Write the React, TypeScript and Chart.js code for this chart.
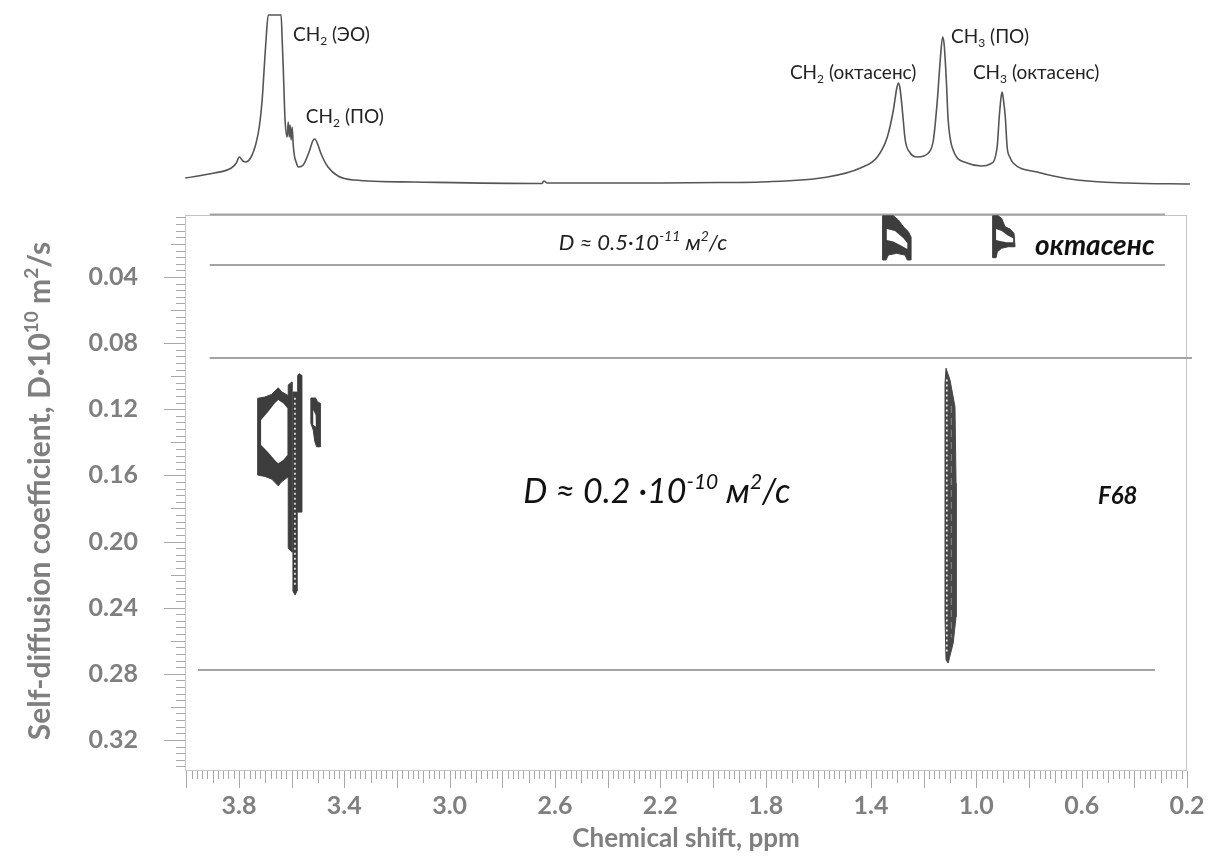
import React, { useEffect, useRef } from "react";
import { Chart, registerables } from "chart.js";

Chart.register(...registerables);

const FONT = "Lato, 'Open Sans', 'DejaVu Sans', sans-serif";
const AXIS_GREY = "#7f7f7f";
const INK = "#3d3d3d";
const RULE = "#a3a3a3";

// ---------- 1D 1H spectrum: [ppm, relative intensity] (170 = clipped top) ----------
const spectrum: [number, number][] = [
  [4.004, 7], [3.894, 12], [3.829, 17], [3.81, 22], [3.799, 28], [3.785, 24], [3.775, 23],
  [3.754, 28], [3.735, 42], [3.723, 58], [3.712, 85], [3.704, 118], [3.696, 150], [3.689, 170],
  [3.64, 170], [3.636, 145], [3.632, 118], [3.625, 65], [3.617, 48], [3.613, 63], [3.609, 48],
  [3.606, 60], [3.602, 45], [3.598, 58], [3.594, 40], [3.59, 30], [3.582, 22], [3.575, 18],
  [3.556, 20], [3.534, 33], [3.52, 44], [3.512, 46], [3.5, 40], [3.488, 31], [3.462, 18],
  [3.424, 9], [3.363, 5], [3.135, 3], [2.665, 1.5], [2.65, 1.5], [2.642, 4], [2.63, 2],
  [2.438, 2], [2.2, 2], [1.95, 2.5], [1.82, 3], [1.565, 8], [1.44, 17], [1.376, 28],
  [1.338, 48], [1.315, 75], [1.302, 97], [1.296, 102], [1.29, 97], [1.281, 75], [1.27, 45],
  [1.251, 32], [1.224, 28], [1.182, 32], [1.163, 45], [1.148, 85], [1.137, 125], [1.128, 148],
  [1.122, 140], [1.114, 105], [1.107, 65], [1.088, 35], [1.035, 22], [0.98, 19], [0.947, 21],
  [0.921, 38], [0.913, 68], [0.906, 88], [0.902, 93], [0.897, 85], [0.89, 68], [0.883, 38],
  [0.873, 28], [0.86, 22], [0.769, 13], [0.617, 5], [0.428, 2], [0.189, 1],
];

// ---------- axis ticks ----------
const shiftTicks = [3.8, 3.4, 3.0, 2.6, 2.2, 1.8, 1.4, 1.0, 0.6, 0.2];
const diffTicks = [0.04, 0.08, 0.12, 0.16, 0.2, 0.24, 0.28, 0.32];
const shiftMinorStep = 0.02;
const diffMinorStep = 0.004;

// ---------- DOSY contours: [ppm, D·10^10 m²/s] ----------
const octCH2Outer = [
  [1.356, 0.003], [1.315, 0.003], [1.296, 0.0055], [1.277, 0.0096], [1.258, 0.0126],
  [1.249, 0.0156], [1.249, 0.0297], [1.262, 0.0297], [1.271, 0.0267], [1.303, 0.0257],
  [1.334, 0.0267], [1.343, 0.0297], [1.356, 0.0297],
];
const octCH2Hole = [
  [1.34, 0.011], [1.309, 0.0122], [1.277, 0.0166], [1.262, 0.0196], [1.262, 0.0231],
  [1.284, 0.0211], [1.315, 0.0186], [1.34, 0.0176],
];
const octCH3Outer = [
  [0.938, 0.003], [0.917, 0.003], [0.904, 0.0045], [0.891, 0.0096], [0.872, 0.011],
  [0.857, 0.0136], [0.853, 0.0217], [0.879, 0.0217], [0.904, 0.0226], [0.92, 0.0247],
  [0.925, 0.0283], [0.938, 0.0283],
];
const octCH3Hole = [
  [0.925, 0.011], [0.904, 0.0122], [0.879, 0.015], [0.86, 0.0166], [0.86, 0.019],
  [0.885, 0.019], [0.91, 0.0182], [0.925, 0.0176],
];
const eoRingOuter = [
  [3.729, 0.1134], [3.702, 0.1126], [3.676, 0.111], [3.651, 0.107], [3.638, 0.1094],
  [3.613, 0.1118], [3.613, 0.1608], [3.638, 0.1638], [3.651, 0.1663], [3.676, 0.1622],
  [3.702, 0.1606], [3.729, 0.1598],
];
const eoRingHole = [
  [3.716, 0.1265], [3.689, 0.1215], [3.664, 0.1164], [3.651, 0.1144], [3.632, 0.1164],
  [3.616, 0.1194], [3.616, 0.1477], [3.632, 0.1507], [3.651, 0.1527], [3.664, 0.1507],
  [3.689, 0.146], [3.716, 0.1416],
];
const stripeA = [[3.613, 0.1053], [3.599, 0.1035], [3.599, 0.2064], [3.613, 0.2039]];
const stripeB = [[3.595, 0.1096], [3.58, 0.1096], [3.58, 0.23], [3.587, 0.2324], [3.595, 0.23]];
const stripeBDots = [[3.5875, 0.113], [3.5875, 0.228]];
const stripeC = [[3.577, 0.0995], [3.57, 0.0985], [3.562, 0.0995], [3.562, 0.1822], [3.577, 0.1822]];
const poSmallOuter = [
  [3.527, 0.1132], [3.509, 0.1132], [3.502, 0.1154], [3.492, 0.1164], [3.492, 0.1427],
  [3.505, 0.1427], [3.512, 0.1396], [3.518, 0.1326], [3.527, 0.1285],
];
const poSmallHole = [[3.518, 0.1205], [3.509, 0.1235], [3.508, 0.1306], [3.516, 0.1295]];
const f68Outer = [
  [1.115, 0.0952], [1.1, 0.1023], [1.081, 0.1185], [1.077, 0.1648], [1.077, 0.2455],
  [1.088, 0.2616], [1.107, 0.2735], [1.115, 0.2717], [1.119, 0.2455], [1.119, 0.1043],
];
const f68DotsA = [[1.112, 0.102], [1.112, 0.268]];
const f68DotsB = [[1.095, 0.118], [1.095, 0.258]];

// ---------- separating rules ----------
const ruleTop = [[3.911, 0.0022], [0.284, 0.0022]];
const ruleOct = [[3.911, 0.0327], [0.284, 0.0327]];
const ruleMid = [[3.911, 0.089], [0.181, 0.089]];
const ruleLow = [[3.956, 0.2777], [0.322, 0.2777]];

type Seg = { t: string; sup?: boolean; sub?: boolean };

function drawRich(
  ctx: CanvasRenderingContext2D, segs: Seg[], x: number, y: number, size: number,
  style: string, color: string, align: "left" | "center"
) {
  const fontFor = (s: Seg) =>
    `${style} ${s.sup || s.sub ? Math.round(size * 0.62) : size}px ${FONT}`;
  let total = 0;
  for (const s of segs) { ctx.font = fontFor(s); total += ctx.measureText(s.t).width; }
  let cx = align === "center" ? x - total / 2 : x;
  ctx.fillStyle = color;
  ctx.textAlign = "left";
  ctx.textBaseline = "alphabetic";
  for (const s of segs) {
    ctx.font = fontFor(s);
    const dy = s.sup ? -size * 0.4 : s.sub ? size * 0.22 : 0;
    ctx.fillText(s.t, cx, y + dy);
    cx += ctx.measureText(s.t).width;
  }
}

// annotations inside the DOSY panel: [ppm, D]
const labelSlowD = [2.266, 0.0237];
const labelOct = [0.777, 0.0267];
const labelFastD = [2.213, 0.1767];
const labelF68 = [0.538, 0.1773];

// peak labels on the spectrum: [ppm, intensity]
const peakLabels: { at: [number, number]; segs: Seg[] }[] = [
  { at: [3.595, 144], segs: [{ t: "CH" }, { t: "2", sub: true }, { t: " (ЭО)" }] },
  { at: [3.546, 62], segs: [{ t: "CH" }, { t: "2", sub: true }, { t: " (ПО)" }] },
  { at: [1.708, 106], segs: [{ t: "CH" }, { t: "2", sub: true }, { t: " (октасенс)" }] },
  { at: [1.096, 142], segs: [{ t: "CH" }, { t: "3", sub: true }, { t: " (ПО)" }] },
  { at: [1.013, 106], segs: [{ t: "CH" }, { t: "3", sub: true }, { t: " (октасенс)" }] },
];

const toXY = (pts: number[][]) => pts.map(([x, y]) => ({ x, y }));

function shape(pts: number[][], color: string, order: number) {
  return {
    data: toXY([...pts, pts[0]]),
    borderColor: color,
    backgroundColor: color,
    borderWidth: 1,
    pointRadius: 0,
    tension: 0,
    fill: "shape",
    order,
  };
}
function hole(pts: number[][]) {
  return {
    data: toXY([...pts, pts[0]]),
    borderColor: "rgba(0,0,0,0)",
    backgroundColor: "#ffffff",
    borderWidth: 0,
    pointRadius: 0,
    tension: 0,
    fill: "shape",
    order: 0,
  };
}
function rule(pts: number[][]) {
  return {
    data: toXY(pts), borderColor: RULE, borderWidth: 2, pointRadius: 0,
    fill: false, order: 5, clip: false,
  };
}
function dots(pts: number[][], dash: number[], color: string, w: number) {
  return {
    data: toXY(pts), borderColor: color, borderWidth: w, borderDash: dash,
    pointRadius: 0, fill: false, order: 1,
  };
}

const frameTicks = {
  id: "frameTicks",
  beforeDatasetsDraw(chart: any) {
    const { ctx, chartArea: a, scales } = chart;
    const x = scales.x, y = scales.y;
    ctx.save();
    ctx.strokeStyle = "#c4c4c4";
    ctx.lineWidth = 1;
    ctx.strokeRect(a.left + 0.5, a.top + 0.5, a.right - a.left - 1, a.bottom - a.top - 1);
    ctx.strokeStyle = "#a8a8a8";
    ctx.beginPath();
    const nX = Math.round(4.2 / shiftMinorStep);
    for (let i = 0; i <= nX; i++) {
      const v = i * shiftMinorStep;
      if (v < x.min - 1e-9 || v > x.max + 1e-9) continue;
      const px = Math.round(x.getPixelForValue(v)) + 0.5;
      const len = i % 10 === 0 ? 17 : i % 5 === 0 ? 12 : 8;
      ctx.moveTo(px, a.bottom);
      ctx.lineTo(px, a.bottom + len);
    }
    const nY = Math.round(0.34 / diffMinorStep);
    for (let i = 1; i <= nY; i++) {
      const v = i * diffMinorStep;
      if (v < y.min - 1e-9 || v > y.max + 1e-9) continue;
      const py = Math.round(y.getPixelForValue(v)) + 0.5;
      const len = i % 10 === 0 ? 21 : i % 5 === 0 ? 14 : 9;
      ctx.moveTo(a.left - len, py);
      ctx.lineTo(a.left, py);
    }
    ctx.stroke();
    ctx.restore();
  },
};

const dosyText = {
  id: "dosyText",
  afterDraw(chart: any) {
    const { ctx, chartArea: a, scales } = chart;
    const x = scales.x, y = scales.y;
    const P = (p: number[]) => [x.getPixelForValue(p[0]), y.getPixelForValue(p[1])];
    ctx.save();
    let [px, py] = P(labelSlowD);
    drawRich(ctx, [{ t: "D ≈ 0.5·10" }, { t: "-11", sup: true }, { t: " м" }, { t: "2", sup: true }, { t: "/с" }],
      px, py, 22, "italic", "#222", "center");
    [px, py] = P(labelOct);
    drawRich(ctx, [{ t: "октасенс" }], px, py, 28, "italic bold", "#111", "left");
    [px, py] = P(labelFastD);
    drawRich(ctx, [{ t: "D ≈ 0.2 ·10" }, { t: "-10", sup: true }, { t: " м" }, { t: "2", sup: true }, { t: "/с" }],
      px, py, 34, "italic", "#111", "center");
    [px, py] = P(labelF68);
    drawRich(ctx, [{ t: "F68" }], px, py, 24, "italic bold", "#111", "left");

    // rotated y-axis title with superscripts
    ctx.translate(50, (a.top + a.bottom) / 2 - 2);
    ctx.rotate(-Math.PI / 2);
    drawRich(ctx,
      [{ t: "Self-diffusion coefficient, D·10" }, { t: "10", sup: true }, { t: " m" }, { t: "2", sup: true }, { t: "/s" }],
      0, 0, 30, "bold", AXIS_GREY, "center");
    ctx.restore();
  },
};

const peakText = {
  id: "peakText",
  afterDraw(chart: any) {
    const { ctx, scales } = chart;
    ctx.save();
    for (const l of peakLabels) {
      const px = scales.x.getPixelForValue(l.at[0]);
      const py = scales.y.getPixelForValue(l.at[1]);
      drawRich(ctx, l.segs, px, py, 19, "normal", "#222", "left");
    }
    ctx.restore();
  },
};

export default function App() {
  const mainRef = useRef<HTMLCanvasElement>(null);
  const specRef = useRef<HTMLCanvasElement>(null);

  useEffect(() => {
    const main = new Chart(mainRef.current as HTMLCanvasElement, {
      type: "line",
      data: {
        datasets: [
          hole(octCH2Hole), hole(octCH3Hole), hole(eoRingHole), hole(poSmallHole),
          dots(stripeBDots, [2, 3], "#ffffff", 1.5),
          dots(f68DotsA, [2, 3], "#ffffff", 1.5),
          dots(f68DotsB, [7, 5], "#8a8a8a", 1),
          shape(octCH2Outer, INK, 2), shape(octCH3Outer, INK, 2),
          shape(eoRingOuter, INK, 2), shape(stripeA, INK, 2), shape(stripeB, INK, 2),
          shape(stripeC, INK, 2), shape(poSmallOuter, INK, 2), shape(f68Outer, "#474747", 2),
          rule(ruleTop), rule(ruleOct), rule(ruleMid), rule(ruleLow),
        ] as any,
      },
      options: {
        animation: false,
        responsive: false,
        events: [],
        layout: { padding: { top: 215, right: 24, bottom: 0, left: 0 } },
        plugins: { legend: { display: false }, tooltip: { enabled: false } },
        scales: {
          x: {
            type: "linear", min: 0.2, max: 4.005, reverse: true,
            grid: { display: false, drawTicks: false }, border: { display: false },
            afterFit: (s: any) => { s.height = 90; s.paddingLeft = 0; s.paddingRight = 0; },
            afterBuildTicks: (s: any) => { s.ticks = shiftTicks.map((v) => ({ value: v })); },
            ticks: {
              padding: 20, color: AXIS_GREY, autoSkip: false, maxRotation: 0,
              font: { family: FONT, size: 25, weight: "bold" },
              callback: (v: any) => Number(v).toFixed(1),
            },
            title: {
              display: true, text: "Chemical shift, ppm", color: AXIS_GREY,
              font: { family: FONT, size: 26, weight: "bold" }, padding: { top: 0, bottom: 7 },
            },
          },
          y: {
            type: "linear", min: 0.0025, max: 0.3388, reverse: true,
            grid: { display: false, drawTicks: false }, border: { display: false },
            afterFit: (s: any) => { s.width = 185; s.paddingTop = 0; s.paddingBottom = 0; },
            afterBuildTicks: (s: any) => { s.ticks = diffTicks.map((v) => ({ value: v })); },
            ticks: {
              padding: 47, color: AXIS_GREY, autoSkip: false,
              font: { family: FONT, size: 25, weight: "bold" },
              callback: (v: any) => Number(v).toFixed(2),
            },
          },
        },
      } as any,
      plugins: [frameTicks, dosyText],
    });

    const spec = new Chart(specRef.current as HTMLCanvasElement, {
      type: "line",
      data: {
        datasets: [{
          data: toXY(spectrum), borderColor: "#555555", borderWidth: 1.6,
          pointRadius: 0, cubicInterpolationMode: "monotone", fill: false, clip: false,
        }] as any,
      },
      options: {
        animation: false,
        responsive: false,
        events: [],
        layout: { padding: { left: 185, right: 24, top: 15, bottom: 15 } },
        plugins: { legend: { display: false }, tooltip: { enabled: false } },
        scales: {
          x: { type: "linear", display: false, min: 0.2, max: 4.005, reverse: true },
          y: { type: "linear", display: false, min: 0, max: 170 },
        },
      } as any,
      plugins: [peakText],
    });

    return () => { main.destroy(); spec.destroy(); };
  }, []);

  return (
    <div style={{ position: "fixed", left: 0, top: 0, width: 1211, height: 861, background: "#ffffff" }}>
      <canvas ref={mainRef} width={1211} height={861} style={{ position: "absolute", left: 0, top: 0 }} />
      <canvas ref={specRef} width={1211} height={200} style={{ position: "absolute", left: 0, top: 0 }} />
    </div>
  );
}
